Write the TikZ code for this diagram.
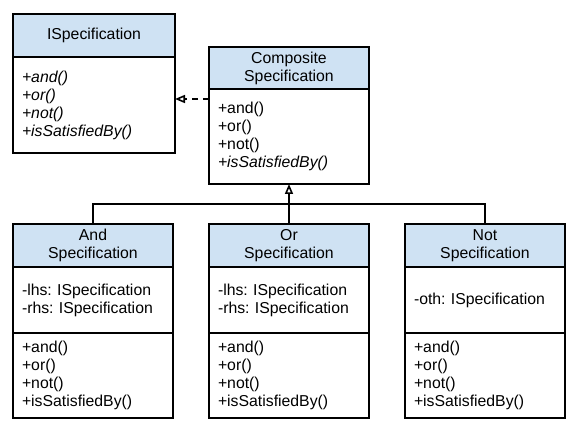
\documentclass[tikz,border=0pt]{standalone}
\usepackage{fontspec}
\setmainfont{Liberation Sans}
\usetikzlibrary{positioning, arrows.meta}

\definecolor{headblue}{HTML}{CFE2F3}
\frenchspacing

\begin{document}
\begin{tikzpicture}
  [
  x = 1pt, y = -1pt,
  % class header
  head/.style = {rectangle,
    draw, line width = 1.6pt,
    fill = headblue,
    font = \fontsize{15.8}{18}\selectfont,
    minimum width = 160pt,
    minimum height = 43pt,
    text width = 150pt, inner xsep = 5pt,
    align = center,
    outer sep = 0pt},
  % class body
  part/.style = {rectangle,
    draw, line width = 1.6pt,
    font = \fontsize{15.8}{18}\selectfont,
    minimum width = 160pt,
    text width = 142pt, inner xsep = 9pt,
    align = left,
    outer sep = 0pt},
  % line
  line/.style = {draw, line width = 1.6pt},
  inherit/.style = {line, -{Triangle[open, length = 10pt, width = 8pt]}},
  realize/.style = {inherit, dash pattern = on 6pt off 5pt},
  ]

  \useasboundingbox (0,0) rectangle (581,435);

  % nodes
  \node [head, minimum width = 162pt] (ispec) at (94,35.5) {ISpecification};
  \node [part, minimum width = 162pt, text width = 144pt, minimum height = 96pt,
    below = 0pt of ispec] (ispecops)
    {\itshape +and()\\+or()\\+not()\\+isSatisfiedBy()};

  \node [head, minimum height = 42pt] (comp) at (289,68) {Composite\\Specification};
  \node [part, minimum height = 95pt, below = 0pt of comp] (compops)
    {+and()\\+or()\\+not()\\\textit{+isSatisfiedBy()}};

  \node [head] (andhead) at (93,245.5) {And\\Specification};
  \node [part, minimum height = 66pt, below = 0pt of andhead] (andattr)
    {-lhs: ISpecification\\-rhs: ISpecification};
  \node [part, minimum height = 85pt, below = 0pt of andattr] (andops)
    {+and()\\+or()\\+not()\\+isSatisfiedBy()};

  \node [head] (orhead) at (289,245.5) {Or\\Specification};
  \node [part, minimum height = 66pt, below = 0pt of orhead] (orattr)
    {-lhs: ISpecification\\-rhs: ISpecification};
  \node [part, minimum height = 85pt, below = 0pt of orattr] (orops)
    {+and()\\+or()\\+not()\\+isSatisfiedBy()};

  \node [head] (nothead) at (485,245.5) {Not\\Specification};
  \node [part, minimum height = 66pt, below = 0pt of nothead] (notattr)
    {-oth: ISpecification};
  \node [part, minimum height = 85pt, below = 0pt of notattr] (notops)
    {+and()\\+or()\\+not()\\+isSatisfiedBy()};

  % path
  \path [realize] ([yshift=-10pt]comp.south west)
    -- ([yshift=-10pt]comp.south west -| ispecops.east);
  \path [inherit] (orhead.north) -- (orhead.north |- compops.south);
  \path [line] (andhead.north) -- ++(0,-20) -| (nothead.north);

\end{tikzpicture}
\end{document}
